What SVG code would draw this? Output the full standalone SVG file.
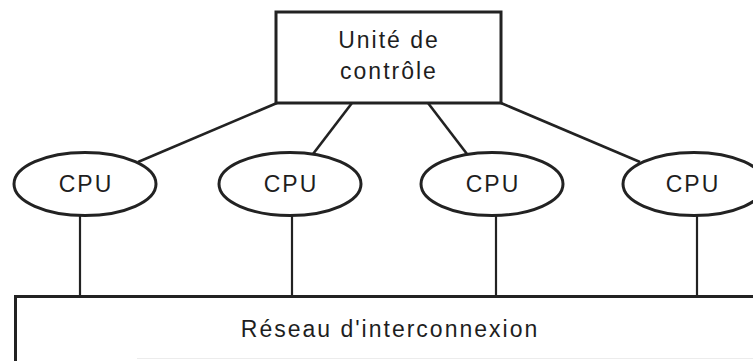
<svg xmlns="http://www.w3.org/2000/svg" width="753" height="361" viewBox="0 0 753 361">
  <style>
    .box { fill: #fff; stroke: #222; stroke-width: 3; }
    .cpu { fill: #fff; stroke: #222; stroke-width: 3; }
    .link { stroke: #222; stroke-width: 2.6; fill: none; }
    .drop { stroke: #222; stroke-width: 2.2; fill: none; }
    .lbl { font-family: "Liberation Sans", Arial, sans-serif; font-size: 23px; letter-spacing: 2px; fill: #1e1e1e; text-anchor: middle; }
  </style>
  <rect width="753" height="361" fill="#fff"/>

  <g id="connectors">
    <!-- control unit to CPUs -->
    <line class="link" x1="277" y1="103" x2="138" y2="162"/>
    <line class="link" x1="352" y1="103" x2="313" y2="154"/>
    <line class="link" x1="428" y1="103" x2="467" y2="154"/>
    <line class="link" x1="501" y1="103" x2="640" y2="162"/>
    <!-- CPUs to interconnect -->
    <line class="drop" x1="80" y1="215" x2="80" y2="297"/>
    <line class="drop" x1="292" y1="215" x2="292" y2="297"/>
    <line class="drop" x1="496" y1="215" x2="496" y2="297"/>
    <line class="drop" x1="697" y1="215" x2="697" y2="297"/>
  </g>

  <g id="control-unit">
    <rect class="box" x="276" y="12" width="225" height="91"/>
    <text class="lbl" x="389" y="48">Unité de</text>
    <text class="lbl" x="389" y="79">contrôle</text>
  </g>

  <g id="cpu-1">
    <ellipse class="cpu" cx="85" cy="184" rx="71" ry="31.5"/>
    <text class="lbl" x="86" y="192">CPU</text>
  </g>
  <g id="cpu-2">
    <ellipse class="cpu" cx="290" cy="184" rx="71" ry="31.5"/>
    <text class="lbl" x="291" y="192">CPU</text>
  </g>
  <g id="cpu-3">
    <ellipse class="cpu" cx="492" cy="184" rx="71" ry="31.5"/>
    <text class="lbl" x="493" y="192">CPU</text>
  </g>
  <g id="cpu-4">
    <ellipse class="cpu" cx="694" cy="184" rx="71" ry="31.5"/>
    <text class="lbl" x="693" y="192">CPU</text>
  </g>

  <g id="interconnect">
    <rect class="box" x="15.5" y="296.5" width="760" height="90"/>
    <line x1="137" y1="358.5" x2="753" y2="358.5" stroke="#ececec" stroke-width="1"/>
    <text class="lbl" x="390" y="337">Réseau d'interconnexion</text>
  </g>
</svg>
